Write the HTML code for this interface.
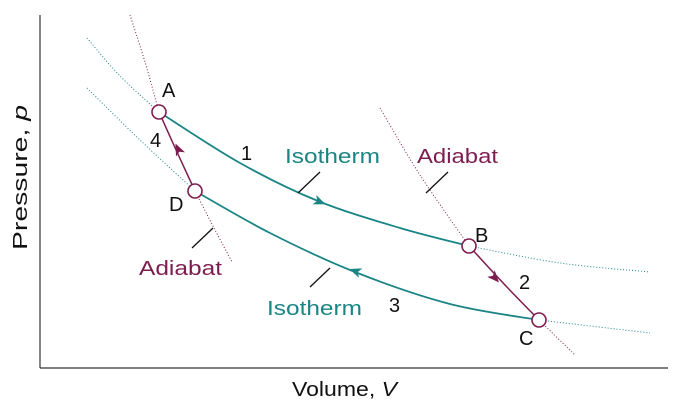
<!DOCTYPE html>
<html><head><meta charset="utf-8"><style>
body{margin:0;background:#fff}
svg{display:block;font-family:"Liberation Sans",sans-serif}
</style></head><body>
<svg id="chart" width="673" height="408" viewBox="0 0 673 408">
<g id="g"></g>
<line x1="40" y1="15" x2="40" y2="368" stroke="#333" stroke-width="1.2"/>
<line x1="40" y1="368" x2="668" y2="368" stroke="#333" stroke-width="1.2"/>
<text x="292" y="396" font-size="20" textLength="105" lengthAdjust="spacingAndGlyphs" fill="#111">Volume, <tspan font-style="italic">V</tspan></text>
<text transform="translate(27,250) rotate(-90)" font-size="20" textLength="145" lengthAdjust="spacingAndGlyphs" fill="#111">Pressure, <tspan font-style="italic">p</tspan></text>
</svg>
<script>
const upperIso=[[87,38],[120,76],[159,112],[240,163],[318,201],[400,228],[469,246],[560,263],[650,272]];
const lowerIso=[[87,88],[140,140],[195,191],[270,233],[355,272],[450,304],[539,320],[650,333]];
const leftAdia=[[130,15],[145,62],[159,112],[177,152],[195,191],[214,228],[232,262]];
const rightAdia=[[380,108],[420,175],[469,246],[505,285],[539,320],[575,355]];
const stateNames=['A','B','C','D'];
const statePts=[[159,112],[469,246],[539,320],[195,191]];
const NS='http://www.w3.org/2000/svg';
const g=document.getElementById('g');
const T='#1b8585',M='#7d1d4f';
function mk(t,a){const e=document.createElementNS(NS,t);for(const k in a)e.setAttribute(k,a[k]);g.appendChild(e);return e;}
function spline(p){let d='M'+p[0][0]+','+p[0][1];for(let i=0;i<p.length-1;i++){const p0=p[Math.max(0,i-1)],p1=p[i],p2=p[i+1],p3=p[Math.min(p.length-1,i+2)];d+=' C'+(p1[0]+(p2[0]-p0[0])/6)+','+(p1[1]+(p2[1]-p0[1])/6)+' '+(p2[0]-(p3[0]-p1[0])/6)+','+(p2[1]-(p3[1]-p1[1])/6)+' '+p2[0]+','+p2[1];}return d;}
function sub(p,a,b){return p.slice(a,b+1);}
function path(pts,col,w,dash,name){const e=mk('path',{d:spline(pts),fill:'none',stroke:col,'stroke-width':w});if(dash)e.setAttribute('stroke-dasharray',dash);

}
path(sub(upperIso,0,2),T,1,'1 2','upper-isotherm-dotted-left');
path(sub(upperIso,6,8),T,1,'1 2','upper-isotherm-dotted-right');
path(sub(lowerIso,0,2),T,1,'1 2','lower-isotherm-dotted-left');
path(sub(lowerIso,6,7),T,1,'1 2','lower-isotherm-dotted-right');
path(sub(leftAdia,0,2),M,1,'1 2','left-adiabat-dotted-top');
path(sub(leftAdia,4,6),M,1,'1 2','left-adiabat-dotted-bottom');
path(sub(rightAdia,0,2),M,1,'1 2','right-adiabat-dotted-top');
path(sub(rightAdia,4,5),M,1,'1 2','right-adiabat-dotted-bottom');
path(sub(upperIso,2,6),T,1.8,null,'isotherm-path-1');
path(sub(lowerIso,2,6),T,1.8,null,'isotherm-path-3');
path(sub(rightAdia,2,4),M,1.5,null,'adiabat-path-2');
path(sub(leftAdia,2,4),M,1.5,null,'adiabat-path-4');
function arrow(x,y,ang,col,name){const e=mk('path',{d:'M6,0 L-6,-5 L-3,0 L-6,5 Z',fill:col,transform:`translate(${x},${y}) rotate(${ang})`});

}
arrow(320,202,22,T,'arrow-1');arrow(355,271,200,T,'arrow-3');arrow(495,278,48,M,'arrow-2');arrow(178,149,-115,M,'arrow-4');
statePts.forEach((p,i)=>{const c=mk('circle',{cx:p[0],cy:p[1],r:7,fill:'#fff',stroke:M,'stroke-width':1.6});

});
function line(x1,y1,x2,y2,name){const e=mk('line',{x1,y1,x2,y2,stroke:'#111','stroke-width':1.3});

}
line(298,193,320,172,'isotherm-upper-leader');line(310,287,330,268,'isotherm-lower-leader');
line(192,248,213,228,'adiabat-left-leader');line(426,193,448,172,'adiabat-right-leader');
function txt(s,x,y,col,name,len){const e=mk('text',{x,y,'font-size':20,fill:col});e.textContent=s;
if(len){e.setAttribute('textLength',len);e.setAttribute('lengthAdjust','spacingAndGlyphs');}

}
txt('A',162,97,'#111','label-A');txt('D',169,211,'#111','label-D');txt('B',475,242,'#111','label-B');txt('C',519,345,'#111','label-C');
txt('1',241,160,'#111','step-1');txt('4',150,147,'#111','step-4');txt('2',519,289,'#111','step-2');txt('3',389,312,'#111','step-3');
txt('Isotherm',285,163,T,'isotherm-label-upper',95);txt('Isotherm',267,315,T,'isotherm-label-lower',95);
txt('Adiabat',139,275,M,'adiabat-label-left',83);txt('Adiabat',417,163,M,'adiabat-label-right',81);
</script>
</body></html>
